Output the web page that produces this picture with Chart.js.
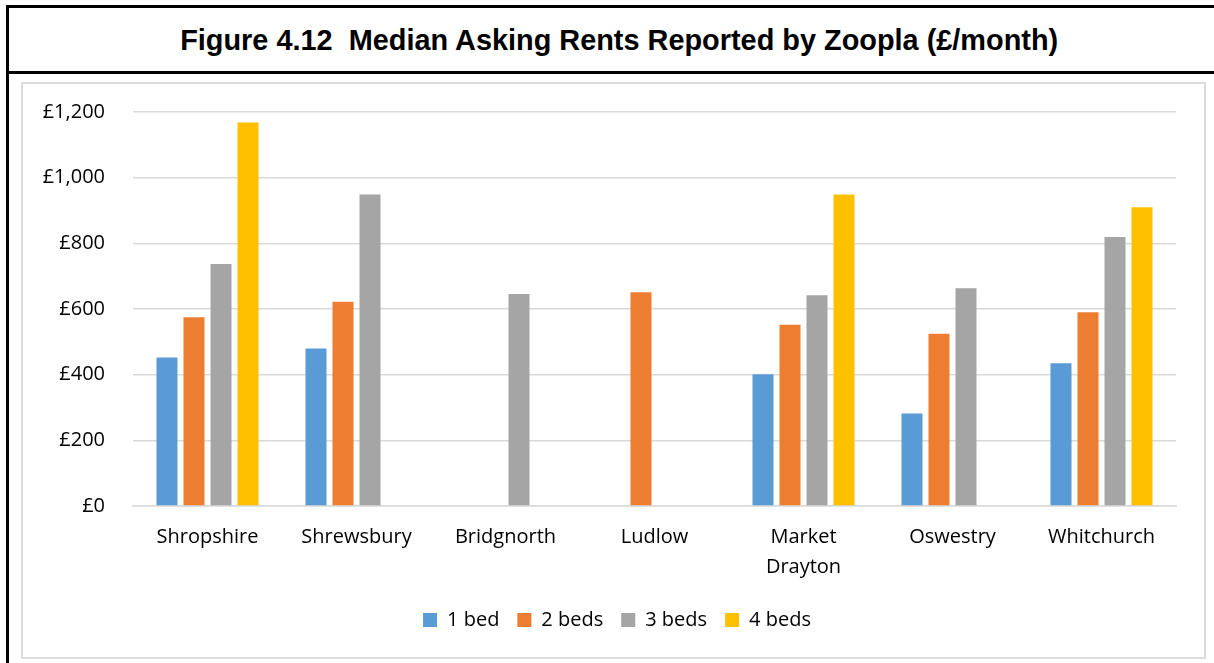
<!DOCTYPE html>
<html>
<head>
<meta charset="utf-8">
<script src="https://cdn.jsdelivr.net/npm/chart.js@4.4.1/dist/chart.umd.min.js"></script>
<style>
  html, body { margin: 0; padding: 0; background: #fff; width: 1214px; height: 663px; overflow: hidden; }
  #frame { position: absolute; left: 6px; top: 5px; width: 1240px; height: 700px; border: 3px solid #000; box-sizing: border-box; }
  #titlebox { position: absolute; left: 0; top: 0; width: 100%; height: 66px; border-bottom: 3px solid #000; box-sizing: border-box; }
  #title { position: absolute; left: 601px; top: 34px; white-space: nowrap; font-family: "Liberation Sans", Arial, sans-serif; font-weight: bold; font-size: 30px; transform-origin: center center; }
  #plotbox { position: absolute; left: 21px; top: 82px; width: 1185px; height: 577px; border: 2px solid #dcdcdc; box-sizing: border-box; }
  #wrap { position: absolute; left: 22px; top: 82px; width: 1183px; height: 576px; }
</style>
</head>
<body>
<div id="frame"><div id="titlebox"></div></div>
<div id="title">Figure 4.12&nbsp; Median Asking Rents Reported by Zoopla (£/month)</div>
<div id="plotbox"></div>
<div id="wrap"><canvas id="rents"></canvas></div>
<script>
const categories = ['Shropshire', 'Shrewsbury', 'Bridgnorth', 'Ludlow', ['Market', 'Drayton'], 'Oswestry', 'Whitchurch'];
const bed1 = [452, 480, null, null, 401, 282, 435];
const bed2 = [575, 622, null, 651, 552, 525, 590];
const bed3 = [737, 949, 646, null, 642, 663, 819];
const bed4 = [1168, null, null, null, 949, null, 910];
const seriesNames = ['1 bed', '2 beds', '3 beds', '4 beds'];
const seriesColors = ['#5b9bd5', '#ed7d31', '#a5a5a5', '#ffc000'];

// title: centre it and squeeze it to the width it has in the figure
const t = document.getElementById('title');
const tw = t.getBoundingClientRect().width;
const th = t.getBoundingClientRect().height;
t.style.left = (619 - tw / 2) + 'px';
t.style.top = (40 - th / 2) + 'px';
t.style.transform = 'scaleX(' + (878 / tw) + ')';

const FONT = { family: 'Open Sans', size: 20 };
const GRID = '#d9d9d9';

// legend sits centred on the whole box, not the plot
const legendShift = {
  id: 'legendShift',
  afterLayout(chart) { chart.legend.right += 36; }
};

new Chart(document.getElementById('rents'), {
  type: 'bar',
  data: {
    labels: categories,
    datasets: [bed1, bed2, bed3, bed4].map((d, i) => ({
      label: seriesNames[i],
      data: d,
      backgroundColor: seriesColors[i],
      borderWidth: 0,
      categoryPercentage: 0.725,
      barPercentage: 0.778
    }))
  },
  plugins: [legendShift],
  options: {
    responsive: true, maintainAspectRatio: false, animation: false,
    layout: { padding: { top: 30, right: 29, bottom: 18, left: 0 } },
    plugins: {
      tooltip: { enabled: false },
      legend: {
        position: 'bottom',
        labels: { color: '#000', font: FONT, boxWidth: 14, boxHeight: 14, padding: 18 }
      }
    },
    scales: {
      x: {
        grid: { display: false, drawTicks: false },
        border: { display: true, color: GRID, width: 1.5 },
        ticks: { color: '#000', font: { ...FONT, lineHeight: 1.5 }, padding: 16, maxRotation: 0, autoSkip: false },
        afterFit: s => { s.height = 86; }
      },
      y: {
        min: 0, max: 1200,
        grid: { color: GRID, lineWidth: 1.5, drawTicks: false },
        border: { display: false },
        ticks: {
          stepSize: 200, color: '#000', font: FONT, padding: 28,
          callback: v => '£' + v.toLocaleString('en-GB')
        },
        afterFit: s => { s.width = 111; s.paddingTop = 0; s.paddingBottom = 0; }
      }
    }
  }
});
</script>
</body>
</html>
